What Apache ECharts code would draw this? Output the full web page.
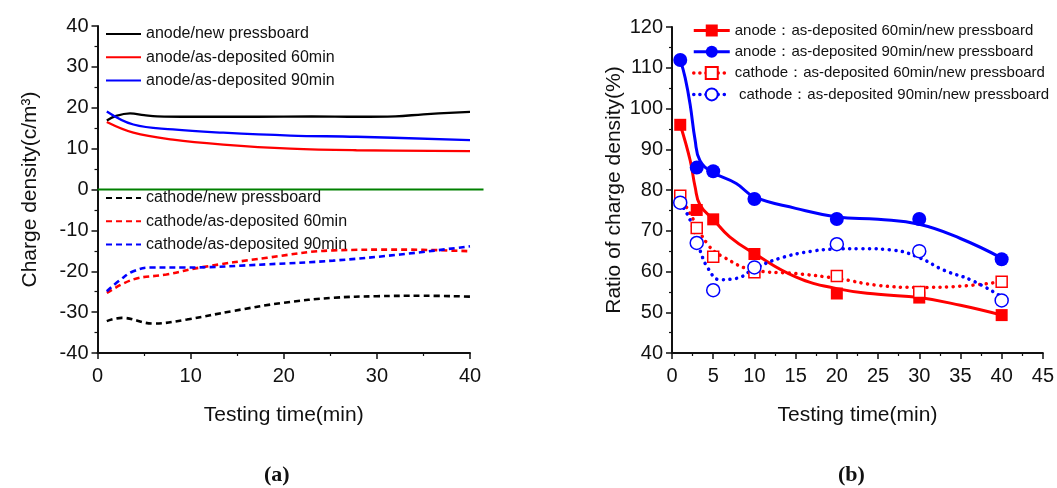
<!DOCTYPE html>
<html>
<head>
<meta charset="utf-8">
<script src="https://cdn.jsdelivr.net/npm/echarts@6/dist/echarts.min.js"></script>
<style>
html,body{margin:0;padding:0;background:#fff;}
#chart{width:1057px;height:488px;}
</style>
</head>
<body>
<div id="chart"></div>
<script>
// ---------- Panel (a): charge density vs testing time ----------
const aTicksX = [0, 10, 20, 30, 40];
const aAnodeNewX = [1, 2, 3.5, 5, 6.4, 10, 17, 23, 28, 32, 35, 40];
const aAnodeNewY = [16.9, 18.0, 18.6, 18.2, 17.9, 17.8, 17.8, 17.9, 17.8, 17.9, 18.4, 19.0];
const aAnode60X = [1, 3.85, 8.1, 13.5, 20.7, 27.8, 40];
const aAnode60Y = [16.5, 13.9, 12.2, 11.0, 10.0, 9.6, 9.4];
const aAnode90X = [1, 3.85, 8.1, 13.5, 20.7, 27.8, 40];
const aAnode90Y = [19.1, 15.9, 14.7, 13.9, 13.2, 12.9, 12.1];
const aCathodeNewX = [1, 2.6, 6, 9.6, 14.6, 20, 25.3, 30, 35, 40];
const aCathodeNewY = [-32.2, -31.4, -32.8, -31.8, -29.7, -27.7, -26.5, -26.1, -26.0, -26.2];
const aCathode60X = [1, 3.85, 7.4, 11, 18.2, 25.3, 32.5, 40];
const aCathode60Y = [-25.3, -22.0, -20.8, -19.1, -16.7, -14.9, -14.7, -15.1];
const aCathode90X = [1, 2.5, 3.85, 5.6, 9.2, 18.2, 25.3, 32.5, 40];
const aCathode90Y = [-24.9, -22.0, -20.0, -19.1, -19.1, -18.3, -17.4, -15.9, -13.9];
const aZeroLineX = [0, 41.5];
const aZeroLineY = [0, 0];

// ---------- Panel (b): ratio of charge density ----------
const bTimes = [1, 3, 5, 10, 20, 30, 40];
const bAnode60 = [96, 75.1, 72.8, 64.3, 54.6, 53.6, 49.3];
const bAnode90 = [111.9, 85.5, 84.6, 77.8, 72.9, 72.9, 63.0];
const bCathode60 = [78.6, 70.7, 63.6, 59.8, 58.9, 55.0, 57.5];
const bCathode90 = [76.9, 67.0, 55.4, 61.0, 66.7, 65.0, 52.9];
// fitted curves as drawn
const bAnode60FitX = [1, 2.2, 2.8, 3.4, 5, 7, 10, 15, 20, 25, 30, 35, 40];
const bAnode60FitY = [96, 87.3, 80.8, 76.3, 72.8, 68.5, 64.4, 58.7, 55.8, 54.4, 53.6, 51.7, 49.3];
const bAnode90FitX = [1, 1.6, 2.2, 2.8, 3.4, 5, 7.8, 10, 15, 20, 25, 30, 35, 40];
const bAnode90FitY = [112, 107.5, 101, 92.3, 87.2, 84.3, 81.6, 78.3, 75.5, 73.4, 72.8, 71.6, 68.1, 63.3];
const bCathode60FitX = [1, 2.2, 4.4, 6.2, 10, 15, 20, 25, 30, 35, 40];
const bCathode60FitY = [78.6, 74.2, 66.5, 63.6, 60.3, 59.5, 58.3, 56.6, 56.1, 56.4, 57.5];
const bCathode90FitX = [1, 2.2, 3.4, 4.4, 5.8, 7.8, 10, 13, 17, 20, 23, 27, 30, 33, 36.3, 40];
const bCathode90FitY = [76.9, 72.6, 65.2, 60.7, 58.0, 58.3, 60.7, 63.2, 65.0, 65.5, 65.6, 65.2, 63.4, 60.3, 57.9, 53.8];

const namesA = ['anode/new pressboard', 'anode/as-deposited 60min', 'anode/as-deposited 90min',
  'cathode/new pressboard', 'cathode/as-deposited 60min', 'cathode/as-deposited 90min'];
const namesB = ['anode：as-deposited 60min/new pressboard', 'anode：as-deposited 90min/new pressboard',
  'cathode：as-deposited 60min/new pressboard', ' cathode：as-deposited 90min/new pressboard'];

const zip = (xs, ys) => xs.map((x, i) => [x, ys[i]]);

const FONT = 'Liberation Sans, Arial, sans-serif';
const RED = '#ff0000', BLUE = '#0000ff', BLACK = '#000000', GREEN = '#008000';

function axisCommon(extra) {
  return Object.assign({
    axisLine: { show: true, onZero: false, lineStyle: { color: '#111', width: 2 } },
    axisTick: { show: true, inside: false, length: 6, lineStyle: { color: '#111', width: 1.5 } },
    minorTick: { show: true, splitNumber: 2, length: 3, lineStyle: { color: '#111', width: 1.2 } },
    splitLine: { show: false },
    axisLabel: { color: '#111', fontSize: 20, fontFamily: FONT },
    nameTextStyle: { color: '#111', fontSize: 21, fontFamily: FONT }
  }, extra);
}

const chart = echarts.init(document.getElementById('chart'), null, { renderer: 'canvas' });

const lineA = (name, xs, ys, color, dashed) => ({
  name, type: 'line', xAxisIndex: 0, yAxisIndex: 0,
  data: zip(xs, ys), smooth: 0.4, symbol: 'none', showSymbol: false,
  lineStyle: { color, width: dashed ? 2.6 : 2.3, type: dashed ? [6, 4] : 'solid' },
  itemStyle: { color }
});

const markerB = (name, ys, color, sym, filled, size) => ({
  name, type: 'line', xAxisIndex: 2, yAxisIndex: 2, z: 5,
  data: zip(bTimes, ys), symbol: sym, symbolSize: size, showSymbol: true,
  lineStyle: { opacity: 0, width: 0 },
  itemStyle: filled ? { color, borderColor: color, borderWidth: 0 }
                    : { color: '#ffffff', borderColor: color, borderWidth: 1.5 }
});
const fitB = (name, xs, ys, color, dotted) => ({
  name, type: 'line', xAxisIndex: 2, yAxisIndex: 2, z: 3,
  data: zip(xs, ys), smooth: 0.45, symbol: 'none', showSymbol: false,
  lineStyle: { color, width: dotted ? 3.5 : 3, type: dotted ? [0.1, 6.5] : 'solid', cap: 'round' },
  itemStyle: { color }
});

const legendA = (names, top) => ({
  data: names.map(n => ({ name: n, itemStyle: { opacity: 0 } })),
  orient: 'vertical', left: 105, top, padding: 0,
  itemWidth: 35, itemHeight: 14, itemGap: 7.3, selectedMode: false,
  itemStyle: { opacity: 0 },
  textStyle: { color: '#111', fontSize: 16, fontFamily: FONT }
});

const option = {
  animation: false,
  backgroundColor: '#ffffff',
  title: [
    { text: '{p|(}{b|a}{p|)}', left: 259, top: 459,
      textStyle: { rich: {
        p: { fontFamily: 'Liberation Serif, serif', fontSize: 22, color: '#111' },
        b: { fontFamily: 'Liberation Serif, serif', fontSize: 22, fontWeight: 'bold', color: '#111' } } } },
    { text: '{p|(}{b|b}{p|)}', left: 833, top: 459,
      textStyle: { rich: {
        p: { fontFamily: 'Liberation Serif, serif', fontSize: 22, color: '#111' },
        b: { fontFamily: 'Liberation Serif, serif', fontSize: 22, fontWeight: 'bold', color: '#111' } } } }
  ],
  grid: [
    { left: 97.5, top: 26, width: 372.5, height: 327, containLabel: false },
    { left: 97.5, top: 26, width: 386, height: 327, containLabel: false },
    { left: 672, top: 27, width: 373, height: 326, containLabel: false }
  ],
  xAxis: [
    axisCommon({ gridIndex: 0, type: 'value', min: aTicksX[0], max: aTicksX[aTicksX.length - 1], interval: 10,
      name: 'Testing time(min)', nameLocation: 'middle', nameGap: 52,
      axisLabel: { color: '#111', fontSize: 20, fontFamily: FONT, margin: 13 } }),
    { gridIndex: 1, type: 'value', min: aZeroLineX[0], max: aZeroLineX[1], show: false },
    axisCommon({ gridIndex: 2, type: 'value', min: 0, max: 45, interval: 5,
      name: 'Testing time(min)', nameLocation: 'middle', nameGap: 52,
      axisLabel: { color: '#111', fontSize: 20, fontFamily: FONT, margin: 13 } })
  ],
  yAxis: [
    axisCommon({ gridIndex: 0, type: 'value', min: -40, max: 40, interval: 10,
      name: 'Charge density(c/m³)', nameLocation: 'middle', nameGap: 57,
      axisLabel: { color: '#111', fontSize: 20, fontFamily: FONT, margin: 9 } }),
    { gridIndex: 1, type: 'value', min: -40, max: 40, show: false },
    axisCommon({ gridIndex: 2, type: 'value', min: 40, max: 120, interval: 10,
      name: 'Ratio of charge density(%)', nameLocation: 'middle', nameGap: 47,
      axisLabel: { color: '#111', fontSize: 20, fontFamily: FONT, margin: 9 } })
  ],
  legend: [
    legendA(namesA.slice(0, 3), 26),
    legendA(namesA.slice(3), 190),
    { data: [
        { name: namesB[0], lineStyle: { opacity: 1, width: 3, color: RED, type: 'solid' } },
        { name: namesB[1], lineStyle: { opacity: 1, width: 3, color: BLUE, type: 'solid' } },
        { name: namesB[2], lineStyle: { opacity: 1, width: 3.5, color: RED, type: [0.1, 6], cap: 'round' } },
        { name: namesB[3], lineStyle: { opacity: 1, width: 3.5, color: BLUE, type: [0.1, 6], cap: 'round' } }
      ],
      orient: 'vertical', left: 692, top: 23, padding: 0,
      itemWidth: 36, itemHeight: 15, itemGap: 6.3, selectedMode: false,
      textStyle: { color: '#111', fontSize: 15, fontFamily: FONT } }
  ],
  series: [
    lineA(namesA[0], aAnodeNewX, aAnodeNewY, BLACK, false),
    lineA(namesA[1], aAnode60X, aAnode60Y, RED, false),
    lineA(namesA[2], aAnode90X, aAnode90Y, BLUE, false),
    lineA(namesA[3], aCathodeNewX, aCathodeNewY, BLACK, true),
    lineA(namesA[4], aCathode60X, aCathode60Y, RED, true),
    lineA(namesA[5], aCathode90X, aCathode90Y, BLUE, true),
    { name: 'zero', type: 'line', xAxisIndex: 1, yAxisIndex: 1, data: zip(aZeroLineX, aZeroLineY),
      symbol: 'none', lineStyle: { color: GREEN, width: 2 }, z: 1 },
    markerB(namesB[0], bAnode60, RED, 'rect', true, 12),
    markerB(namesB[1], bAnode90, BLUE, 'circle', true, 14),
    markerB(namesB[2], bCathode60, RED, 'rect', false, 11),
    markerB(namesB[3], bCathode90, BLUE, 'circle', false, 13),
    fitB(namesB[0], bAnode60FitX, bAnode60FitY, RED, false),
    fitB(namesB[1], bAnode90FitX, bAnode90FitY, BLUE, false),
    fitB(namesB[2], bCathode60FitX, bCathode60FitY, RED, true),
    fitB(namesB[3], bCathode90FitX, bCathode90FitY, BLUE, true)
  ]
};
chart.setOption(option);
</script>
</body>
</html>
